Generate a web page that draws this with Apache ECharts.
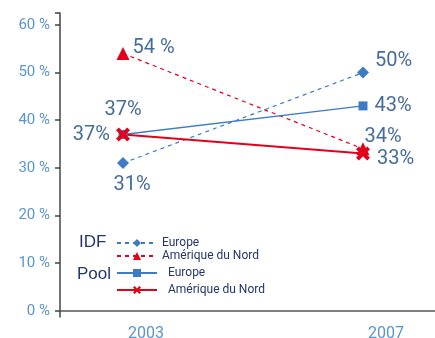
<!DOCTYPE html>
<html>
<head>
<meta charset="utf-8">
<script src="https://cdn.jsdelivr.net/npm/echarts@6/dist/echarts.min.js"></script>
<style>
  html, body { margin: 0; padding: 0; background: #ffffff; }
  #chart { width: 435px; height: 338px; }
</style>
</head>
<body>
<div id="chart"></div>
<script>
// Years on the horizontal axis
const years = [2003, 2007];

// Shares (%) per group and region
const idfEurope = [31, 50];
const idfNorthAmerica = [54, 34];
const poolEurope = [37, 43];
const poolNorthAmerica = [37, 33];

// Value labels as printed next to each point
const idfEuropeLabels = ['31%', '50%'];
const idfNorthAmericaLabels = ['54 %', '34%'];
const poolEuropeLabels = ['37%', '43%'];
const poolNorthAmericaLabels = ['37%', '33%'];

// Y-axis tick labels
const yTicks = [0, 10, 20, 30, 40, 50, 60];

const BLUE = '#3d7cc4';
const RED = '#e3001b';
const LABEL_BLUE = '#466d99';
const AXIS_BLUE = '#5b95cf';
const NAVY = '#26366b';
const FONT = 'Roboto, "DejaVu Sans", sans-serif';
const CROSS = 'path://M0,2 L2,0 L5,3 L8,0 L10,2 L7,5 L10,8 L8,10 L5,7 L2,10 L0,8 L3,5 Z';

// per-point label placement
const idfEuropePlace = [
  { position: 'bottom', distance: 6, offset: [9, 0] },
  { position: 'right', distance: 6, offset: [0, -12] }
];
const idfNorthAmericaPlace = [
  { position: 'right', distance: 3, offset: [0, -6] },
  { position: 'top', distance: 2, offset: [20, 7] }
];
const poolEuropePlace = [
  { position: 'top', distance: 10, offset: [0, 0] },
  { position: 'right', distance: 7, offset: [0, 0] }
];
const poolNorthAmericaPlace = [
  { position: 'left', distance: 6, offset: [0, 0] },
  { position: 'right', distance: 7, offset: [0, 5] }
];

function points(values, labels, place) {
  return values.map((v, i) => ({
    value: [years[i], v],
    label: Object.assign({ formatter: labels[i] }, place[i])
  }));
}

const labelStyle = {
  show: true,
  color: LABEL_BLUE,
  fontSize: 20,
  fontFamily: FONT
};

const chart = echarts.init(document.getElementById('chart'), null, { renderer: 'canvas' });

chart.setOption({
  animation: false,
  backgroundColor: '#ffffff',
  grid: { left: 60, right: 0, top: 13, bottom: 21, outerBoundsMode: 'none', containLabel: false },
  xAxis: {
    type: 'value',
    min: 2001.95,
    max: 2008.2,
    splitLine: { show: false },
    axisTick: { show: false },
    axisLine: { show: true, onZero: true, lineStyle: { color: '#555555', width: 1.5 } },
    axisLabel: {
      customValues: years,
      formatter: v => String(v),
      color: AXIS_BLUE,
      fontSize: 16,
      fontFamily: FONT,
      margin: 9,
      padding: [0, 0, 0, 46]
    }
  },
  yAxis: {
    type: 'value',
    min: -1.3,
    max: 62.5,
    splitLine: { show: false },
    axisLine: { show: true, onZero: false, lineStyle: { color: '#444444', width: 1.5 } },
    axisTick: { show: true, length: 5, customValues: yTicks.concat([62.5]), lineStyle: { color: '#444444', width: 1.5 } },
    axisLabel: {
      customValues: yTicks,
      formatter: v => v + ' %',
      color: AXIS_BLUE,
      fontSize: 15,
      fontFamily: FONT,
      margin: 10
    }
  },
  legend: [
    {
      data: ['IDF Europe', 'IDF Amérique du Nord'],
      orient: 'vertical',
      left: 111,
      top: 232,
      itemWidth: 40,
      itemHeight: 10,
      itemGap: 1,
      formatter: n => n.replace(/^IDF /, ''),
      textStyle: { color: NAVY, fontSize: 12, lineHeight: 12, fontFamily: FONT }
    },
    {
      data: ['Pool Europe', 'Pool Amérique du Nord'],
      orient: 'vertical',
      left: 111,
      top: 262,
      itemWidth: 40,
      itemHeight: 10,
      itemGap: 5,
      formatter: n => n.replace(/^Pool /, ''),
      textStyle: { color: NAVY, fontSize: 12, lineHeight: 12, fontFamily: FONT, padding: [0, 0, 0, 6] }
    }
  ],
  graphic: [
    { type: 'text', left: 79, top: 234, style: { text: 'IDF', fill: NAVY, fontSize: 17, fontFamily: 'Liberation Sans, Arial, sans-serif' } },
    { type: 'text', left: 77, top: 266, style: { text: 'Pool', fill: NAVY, fontSize: 17, fontFamily: 'Liberation Sans, Arial, sans-serif' } }
  ],
  series: [
    {
      name: 'IDF Europe',
      type: 'line',
      data: points(idfEurope, idfEuropeLabels, idfEuropePlace),
      symbol: 'diamond',
      symbolSize: 12,
      color: BLUE,
      lineStyle: { color: BLUE, width: 1.2, type: [4, 4] },
      itemStyle: { color: BLUE },
      label: labelStyle
    },
    {
      name: 'IDF Amérique du Nord',
      type: 'line',
      data: points(idfNorthAmerica, idfNorthAmericaLabels, idfNorthAmericaPlace),
      symbol: 'triangle',
      symbolSize: 13,
      color: RED,
      lineStyle: { color: RED, width: 1.2, type: [4, 4] },
      itemStyle: { color: RED },
      label: labelStyle
    },
    {
      name: 'Pool Europe',
      type: 'line',
      data: points(poolEurope, poolEuropeLabels, poolEuropePlace),
      symbol: 'rect',
      symbolSize: 9,
      color: BLUE,
      lineStyle: { color: BLUE, width: 1.3 },
      itemStyle: { color: BLUE },
      label: labelStyle
    },
    {
      name: 'Pool Amérique du Nord',
      type: 'line',
      data: points(poolNorthAmerica, poolNorthAmericaLabels, poolNorthAmericaPlace),
      symbol: CROSS,
      symbolSize: 14,
      color: RED,
      lineStyle: { color: RED, width: 2 },
      itemStyle: { color: RED },
      label: labelStyle
    }
  ]
});
</script>
</body>
</html>
